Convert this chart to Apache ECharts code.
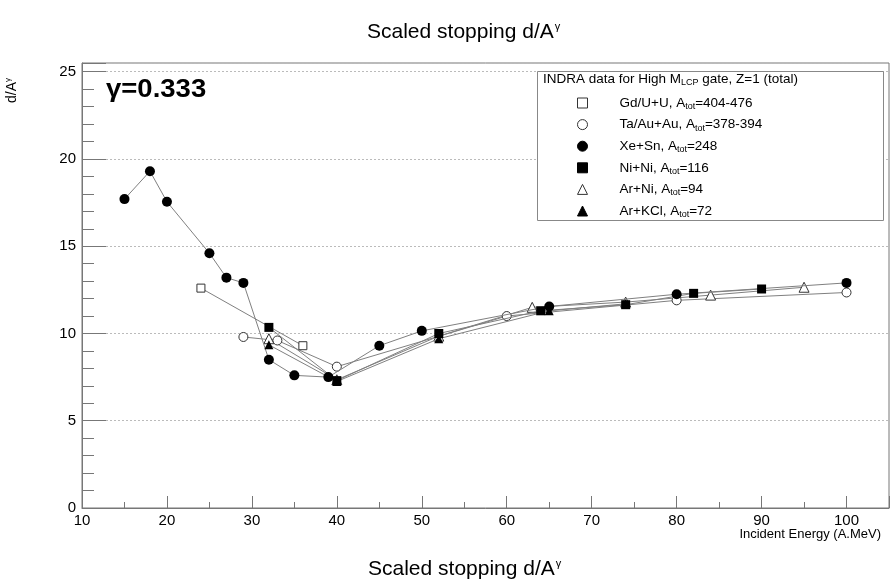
<!DOCTYPE html>
<html><head><meta charset="utf-8">
<script src="https://cdn.jsdelivr.net/npm/echarts@6/dist/echarts.min.js"></script>
<style>html,body{margin:0;padding:0;background:#fff}#c{width:892px;height:585px}</style>
</head><body><div id="c"></div>
<script>
// Data (energy in A.MeV, scaled stopping d/A^gamma)
const xeSnX = [15, 18, 20, 25, 27, 29, 32, 35, 39, 45, 50, 65, 80, 100];
const xeSnY = [17.7, 19.3, 17.55, 14.6, 13.2, 12.9, 8.5, 7.6, 7.5, 9.3, 10.15, 11.55, 12.25, 12.9];
const gdUX = [24, 36];
const gdUY = [12.6, 9.3];
const taAuX = [29, 33, 40, 60, 80, 100];
const taAuY = [9.8, 9.6, 8.1, 11.0, 11.9, 12.35];
const niNiX = [32, 40, 52, 64, 74, 82, 90];
const niNiY = [10.35, 7.3, 10.0, 11.3, 11.65, 12.3, 12.55];
const arNiX = [32, 40, 52, 63, 74, 84, 95];
const arNiY = [9.7, 7.35, 9.85, 11.5, 11.8, 12.2, 12.65];
const arKClX = [32, 40, 52, 65, 74];
const arKClY = [9.35, 7.25, 9.7, 11.3, 11.7];
const seriesNames = ['Gd/U+U|404-476', 'Ta/Au+Au|378-394', 'Xe+Sn|248', 'Ni+Ni|116', 'Ar+Ni|94', 'Ar+KCl|72'];
const xTicks = [10, 20, 30, 40, 50, 60, 70, 80, 90, 100];
const yTicks = [0, 5, 10, 15, 20, 25];

const pair = (xs, ys) => xs.map((x, i) => [x, ys[i]]);
const lineCol = '#808080';
const ink = '#000';
function mk(name, xs, ys, symbol, size, filled) {
  return {
    name: name, type: 'line', data: pair(xs, ys), symbol: symbol, symbolSize: size,
    showAllSymbol: true, animation: false,
    lineStyle: { color: lineCol, width: 1 },
    itemStyle: filled ? { color: ink, borderColor: ink, borderWidth: 0 } : { color: '#fff', borderColor: '#333', borderWidth: 1 },
    emphasis: { disabled: true }, z: filled ? 3 : 2
  };
}
const series = [
  mk(seriesNames[0], gdUX, gdUY, 'rect', 8, false),
  mk(seriesNames[1], taAuX, taAuY, 'circle', 9, false),
  mk(seriesNames[2], xeSnX, xeSnY, 'circle', 10, true),
  mk(seriesNames[3], niNiX, niNiY, 'rect', 9, true),
  mk(seriesNames[4], arNiX, arNiY, 'triangle', 10, false),
  mk(seriesNames[5], arKClX, arKClY, 'triangle', 9, true)
];
const icons = ['rect', 'circle', 'circle', 'rect', 'triangle', 'triangle'];

const chart = echarts.init(document.getElementById('c'), null, { renderer: 'canvas' });
const FF = '"Liberation Sans", Arial, sans-serif';
const titleRich = { a: { fontSize: 21, fontWeight: 'normal', fontFamily: FF, color: '#000' }, b: { fontSize: 11, fontWeight: 'normal', fontFamily: FF, color: '#000', verticalAlign: 'top', padding: [0, 0, 12, 1] } };
chart.setOption({
  backgroundColor: '#fff',
  animation: false,
  textStyle: { fontFamily: FF },
  title: [
    { text: '{a|Scaled stopping d/A}{b|γ}', left: 362, top: 16, textStyle: { fontWeight: 'normal', rich: titleRich } },
    { text: '{a|Scaled stopping d/A}{b|γ}', left: 363, top: 553, textStyle: { fontWeight: 'normal', rich: titleRich } }
  ],
  grid: { left: 82, right: 2, top: 63, bottom: 77, show: true, borderColor: '#777', borderWidth: 1, backgroundColor: 'transparent' },
  xAxis: {
    type: 'value', min: 10, max: 105, interval: 10,
    axisLine: { show: true, onZero: false, lineStyle: { color: '#777' } },
    axisTick: { show: true, inside: true, length: 12, lineStyle: { color: '#777' } },
    minorTick: { show: true, splitNumber: 2, length: 6, lineStyle: { color: '#777' } },
    splitLine: { show: false },
    axisLabel: { color: '#000', fontSize: 15, margin: 5, fontFamily: FF,
      formatter: v => (xTicks.indexOf(v) >= 0 ? String(v) : '') }
  },
  yAxis: {
    type: 'value', min: 0, max: 25.5, interval: 5,
    axisLine: { show: true, lineStyle: { color: '#777' } },
    axisTick: { show: true, inside: true, length: 24, lineStyle: { color: '#777' } },
    minorTick: { show: true, splitNumber: 5, length: 12, lineStyle: { color: '#777' } },
    splitLine: { show: true, lineStyle: { color: '#bbb', type: [2, 2], width: 1 } },
    axisLabel: { color: '#000', fontSize: 15, margin: 6, fontFamily: FF,
      formatter: v => (yTicks.indexOf(v) >= 0 ? String(v) : '') }
  },
  legend: {
    orient: 'vertical', left: 572, top: 90, itemWidth: 10, itemHeight: 10, itemGap: 5.6, z: 20,
    selectedMode: false,
    itemStyle: { borderWidth: 1 },
    data: seriesNames.map((n, i) => ({ name: n, icon: icons[i] })),
    formatter: n => { const p = n.split('|'); return '{p|}{n|' + p[0] + ', A}{s|tot}{n|=' + p[1] + '}'; },
    textStyle: { color: '#000', fontFamily: FF, fontSize: 13.5, lineHeight: 16,
      rich: { p: { width: 27 }, n: { fontSize: 13.5, fontFamily: FF, color: '#000' }, s: { fontSize: 9, fontFamily: FF, color: '#000', verticalAlign: 'bottom', padding: [7, 0, 0, 0] } } }
  },
  graphic: [
    { type: 'rect', z: 1, shape: { x: 537.5, y: 71.5, width: 346, height: 149 }, style: { fill: '#fff', stroke: '#888', lineWidth: 1 } },
    { type: 'text', z: 6, left: 543, top: 72, style: { text: '{n|INDRA data for High M}{s|LCP}{n| gate, Z=1 (total)}',
      rich: { n: { fontSize: 13.5, fontFamily: FF, fill: '#000' }, s: { fontSize: 9, fontFamily: FF, fill: '#000', verticalAlign: 'bottom', padding: [8, 0, 0, 0] } } } },
    { type: 'text', z: 6, x: 106, y: 78, scaleX: 1.1, style: { text: 'γ=0.333', font: 'bold 25px ' + FF, fill: '#000' } },
    { type: 'text', z: 6, right: 11, top: 528, style: { text: 'Incident Energy (A.MeV)', font: '13px ' + FF, fill: '#000' } },
    { type: 'text', z: 6, x: 4, y: 103, rotation: Math.PI / 2, style: { text: '{n|d/A}{s|γ}',
      rich: { n: { fontSize: 14, fontFamily: FF, fill: '#000' }, s: { fontSize: 8, fontFamily: FF, fill: '#000', verticalAlign: 'top', padding: [0, 0, 8, 0] } } } }
  ],
  series: series
});
</script></body></html>
